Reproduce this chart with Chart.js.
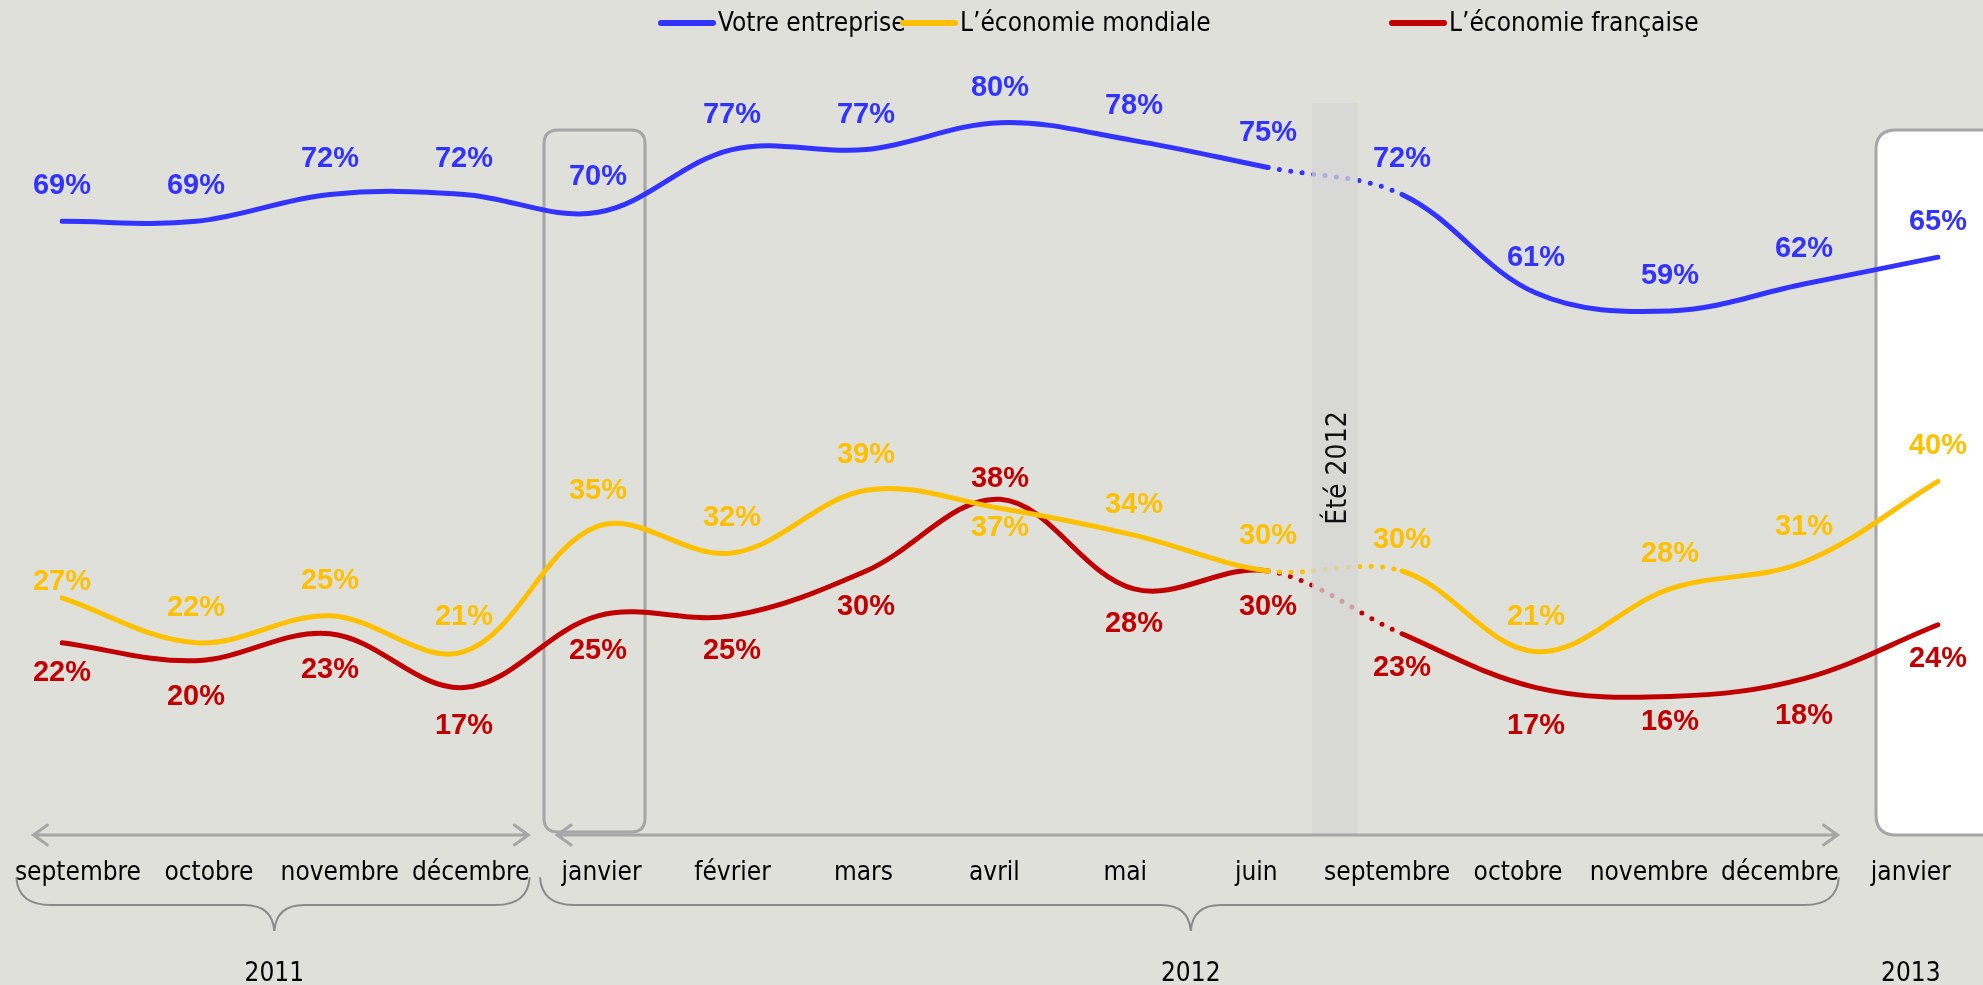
<!DOCTYPE html>
<html>
<head>
<meta charset="utf-8">
<script src="https://cdn.jsdelivr.net/npm/chart.js@4.4.1/dist/chart.umd.min.js"></script>
<style>
  html, body { margin: 0; padding: 0; background: #dfe0da; }
  canvas { display: block; }
</style>
</head>
<body>
<canvas id="chart" width="1983" height="985"></canvas>
<script>
// months of each wave, then the years that group them
const months = ['septembre', 'octobre', 'novembre', 'décembre', 'janvier', 'février', 'mars', 'avril', 'mai', 'juin', 'septembre', 'octobre', 'novembre', 'décembre', 'janvier'];
const years = ['2011', '2012', '2013'];
const yearFirst = [0, 4, 14];
const yearLast = [3, 13, 14];

const seriesNames = ['Votre entreprise', 'L’économie mondiale', 'L’économie française'];
const entreprise = [69, 69, 72, 72, 70, 77, 77, 80, 78, 75, 72, 61, 59, 62, 65];
const mondiale = [27, 22, 25, 21, 35, 32, 39, 37, 34, 30, 30, 21, 28, 31, 40];
const francaise = [22, 20, 23, 17, 25, 25, 30, 38, 28, 30, 23, 17, 16, 18, 24];

// where each value label sits relative to its point (px, negative = above)
const entrepriseLabelDy = [-35, -35, -35, -35, -35, -35, -35, -35, -35, -35, -35, -35, -35, -35, -35];
const mondialeLabelDy = [-16, -35, -35, -35, -35, -35, -35, 20, -30, -35, -31, -35, -35, -35, -35];
const francaiseLabelDy = [30, 36, 36, 38, 35, 35, 36, -20, 35, 36, 34, 38, 25, 37, 34];

const summerGap = 9;      // juin 2012 -> septembre 2012: no wave during the summer
const boxedMonths = [4, 14];

const colors = ['#3333ff', '#ffc000', '#c00000'];
const FONT = '"DejaVu Sans Condensed", "Liberation Sans", Arial, sans-serif';
const BOLD = 'bold 29px "Liberation Sans", Arial, sans-serif';
const GREY = '#a6a6a6';

function rounded(ctx, x, y, w, h, r) {
  ctx.beginPath();
  ctx.moveTo(x + r, y);
  ctx.lineTo(x + w - r, y);
  ctx.quadraticCurveTo(x + w, y, x + w, y + r);
  ctx.lineTo(x + w, y + h - r);
  ctx.quadraticCurveTo(x + w, y + h, x + w - r, y + h);
  ctx.lineTo(x + r, y + h);
  ctx.quadraticCurveTo(x, y + h, x, y + h - r);
  ctx.lineTo(x, y + r);
  ctx.quadraticCurveTo(x, y, x + r, y);
  ctx.closePath();
}

// month labels are spread a little tighter than the points themselves
const labelPos = i => 0.119 + 0.977 * i;

const decor = {
  id: 'decor',
  beforeDatasetsDraw(chart) {
    const ctx = chart.ctx;
    const xs = chart.scales.x;
    ctx.save();

    // framed months
    boxedMonths.forEach((m, k) => {
      const cx = xs.getPixelForValue(m);
      ctx.lineWidth = 3;
      ctx.strokeStyle = GREY;
      if (k === 0) {
        rounded(ctx, cx - 54, 130, 101, 702, 14);
        ctx.stroke();
      } else {
        rounded(ctx, cx - 62, 130, 130, 705, 20);
        ctx.fillStyle = '#ffffff';
        ctx.fill();
        ctx.stroke();
      }
    });

    // period arrows
    ctx.strokeStyle = GREY;
    ctx.lineWidth = 3;
    ctx.lineCap = 'round';
    for (let g = 0; g < 2; g++) {
      const x1 = xs.getPixelForValue(labelPos(yearFirst[g] - 0.34));
      const x2 = xs.getPixelForValue(labelPos(yearLast[g] + 0.44));
      const y = 835;
      ctx.beginPath();
      ctx.moveTo(x1, y); ctx.lineTo(x2, y);
      ctx.moveTo(x1 + 14, y - 10); ctx.lineTo(x1, y); ctx.lineTo(x1 + 14, y + 10);
      ctx.moveTo(x2 - 14, y - 10); ctx.lineTo(x2, y); ctx.lineTo(x2 - 14, y + 10);
      ctx.stroke();
    }

    // month labels
    ctx.fillStyle = '#000';
    ctx.font = '26px ' + FONT;
    ctx.textAlign = 'center';
    ctx.textBaseline = 'middle';
    months.forEach((m, i) => ctx.fillText(m, xs.getPixelForValue(labelPos(i)), 873));

    // braces and years
    ctx.strokeStyle = '#8a8a8a';
    ctx.lineWidth = 2;
    years.forEach((yr, g) => {
      const xc = xs.getPixelForValue(labelPos((yearFirst[g] + yearLast[g]) / 2));
      if (yearLast[g] > yearFirst[g]) {
        const x1 = xs.getPixelForValue(labelPos(yearFirst[g] - 0.47));
        const x2 = xs.getPixelForValue(labelPos(yearLast[g] + 0.45));
        ctx.beginPath();
        ctx.moveTo(x1, 878);
        ctx.quadraticCurveTo(x1 + 2, 905, x1 + 34, 905);
        ctx.lineTo(xc - 30, 905);
        ctx.quadraticCurveTo(xc - 2, 905, xc, 931);
        ctx.quadraticCurveTo(xc + 2, 905, xc + 30, 905);
        ctx.lineTo(x2 - 34, 905);
        ctx.quadraticCurveTo(x2 - 2, 905, x2, 878);
        ctx.stroke();
      }
      ctx.fillText(yr, xc, 974);
    });

    // legend
    const legendX = [658, 900, 1389];
    ctx.textAlign = 'left';
    ctx.lineWidth = 6;
    ctx.lineCap = 'round';
    seriesNames.forEach((name, i) => {
      ctx.strokeStyle = colors[i];
      ctx.beginPath();
      ctx.moveTo(legendX[i] + 3, 23);
      ctx.lineTo(legendX[i] + 55, 23);
      ctx.stroke();
      ctx.fillText(name, legendX[i] + 60, 24);
    });
    ctx.restore();
  },
  afterDatasetsDraw(chart) {
    const ctx = chart.ctx;
    const xs = chart.scales.x;
    ctx.save();

    // summer 2012 band, drawn over the dotted gap
    const bx = xs.getPixelForValue(summerGap + 0.5);
    ctx.fillStyle = 'rgba(214,214,214,0.75)';
    ctx.fillRect(bx - 23, 103, 46, 730);
    ctx.translate(bx + 4, 468);
    ctx.rotate(-Math.PI / 2);
    ctx.fillStyle = '#111';
    ctx.font = '28px ' + FONT;
    ctx.textAlign = 'center';
    ctx.textBaseline = 'middle';
    ctx.fillText('Été 2012', 0, 0);
    ctx.setTransform(1, 0, 0, 1, 0, 0);

    // value labels
    const offsets = [entrepriseLabelDy, mondialeLabelDy, francaiseLabelDy];
    ctx.font = BOLD;
    ctx.textAlign = 'center';
    ctx.textBaseline = 'middle';
    chart.data.datasets.forEach((ds, d) => {
      const meta = chart.getDatasetMeta(d);
      ctx.fillStyle = colors[d];
      meta.data.forEach((pt, i) => {
        ctx.fillText(ds.data[i] + '%', pt.x, pt.y + offsets[d][i]);
      });
    });
    ctx.restore();
  }
};

const gapDash = ctx => ctx.p0DataIndex === summerGap ? [0, 11.5] : undefined;

function line(label, data, color) {
  return {
    label, data,
    borderColor: color,
    borderWidth: 5,
    borderCapStyle: 'round',
    borderJoinStyle: 'round',
    pointRadius: 0,
    tension: 0.36,
    fill: false,
    segment: { borderDash: gapDash }
  };
}

new Chart(document.getElementById('chart'), {
  type: 'line',
  data: {
    labels: months,
    datasets: [
      line(seriesNames[0], entreprise, colors[0]),
      line(seriesNames[1], mondiale, colors[1]),
      line(seriesNames[2], francaise, colors[2])
    ]
  },
  options: {
    responsive: false,
    devicePixelRatio: 1,
    animation: false,
    layout: { padding: { left: 62, right: 45, top: 33, bottom: 145 } },
    plugins: { legend: { display: false }, tooltip: { enabled: false } },
    scales: {
      x: { display: false, offset: false },
      y: { display: false, min: 0, max: 90 }
    }
  },
  plugins: [decor]
});
</script>
</body>
</html>
